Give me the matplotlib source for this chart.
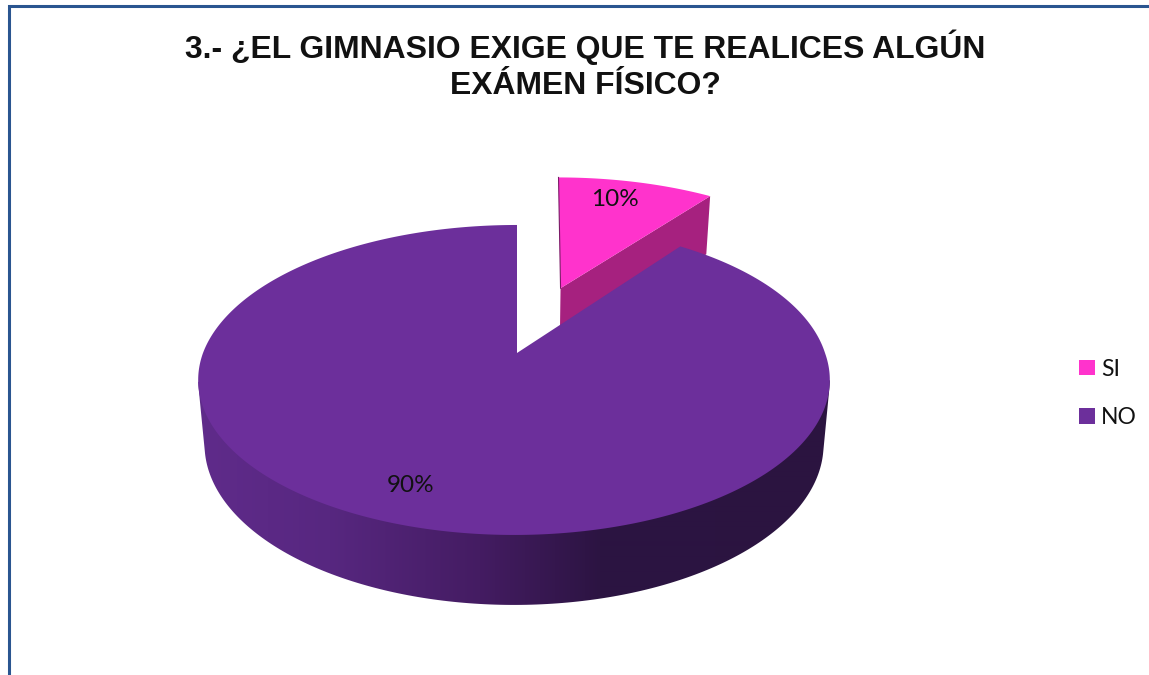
import numpy as np
import matplotlib
matplotlib.use('Agg')
import matplotlib.pyplot as plt
from matplotlib.colors import to_rgb
from matplotlib.patches import Polygon, Rectangle

labels = ['SI', 'NO']
values = [10, 90]
colors = ['#FF33CC', '#6C2F9B']

title = '3.- ¿EL GIMNASIO EXIGE QUE TE REALICES ALGÚN\nEXÁMEN FÍSICO?'

# pie geometry, in pixels
cx, cy = 517, 353
rx, ry = 311, 150.3
tilt = 0.174
explode = 0.49
drop = 63.6
side_x, side_y = 0.98, 1.035

wall_x = [205, 330, 480, 600, 830]
wall_c = ['#5F2B8A', '#572780', '#441C62', '#2C1442', '#2B1440']


def project(x, y):
    d = 1 - tilt * y
    return rx * x / d, ry * y / d


def rim(t, off=(0, 0)):
    # point of the tilted disc, t in degrees clockwise from the top
    a = np.radians(t)
    return project(np.sin(a) + off[0], -np.cos(a) + off[1])


def top(px, py):
    return np.column_stack([cx + px, cy + py])


def bottom(px, py):
    return np.column_stack([cx + side_x * px, cy + side_y * py + drop])


def hull(points):
    # convex hull, monotone chain
    pts = sorted(map(tuple, points))

    def half(seq):
        out = []
        for p in seq:
            while len(out) > 1 and np.cross(np.subtract(out[-1], out[-2]), np.subtract(p, out[-2])) <= 0:
                out.pop()
            out.append(p)
        return out[:-1]
    return np.array(half(pts) + half(pts[::-1]))


fig = plt.figure(figsize=(11.49, 6.75), dpi=100)
ax = fig.add_axes([0, 0, 1, 1])

# frame
ax.plot([9, 9, 1149], [675, 6, 6], color='#2A5590', lw=2.2, solid_joinstyle='miter')

ends = np.cumsum(values) / np.sum(values) * 360
si_end, no_end = ends

# SI slice, pulled out along its middle angle
mid = np.radians(si_end / 2)
off = (explode * np.sin(mid), -explode * np.cos(mid))
ts = np.linspace(0, si_end, 40)
apex = project(off[0], off[1])
px, py = rim(ts, off)
px = px + np.interp(ts, [0, si_end], [4, 5])
edge_top = top(np.array([apex[0], px[-1]]), np.array([apex[1], py[-1]]))
edge_bot = bottom(np.array([apex[0], px[-1]]), np.array([apex[1], py[-1]]))
ax.add_patch(Polygon(np.vstack([edge_top, edge_bot[::-1]]), fc='#A6217F', ec='none'))
ax.add_patch(Polygon(top(np.r_[apex[0], px], np.r_[apex[1], py]), fc=colors[0], ec='none'))
ax.plot([cx + px[0], cx + apex[0]], [cy + py[0], cy + apex[1]], color='#7A1A66', lw=0.8)

# NO slice, the rim leans slightly off the centre
ts = np.linspace(si_end, no_end, 400)
px, py = rim(ts)
px = px + np.interp(ts, [0, si_end, 90, 270, 360], [0, 3, -3, -3, 0])

# side wall with a left to right shading, clipped to the outline
front = (ts > 100) & (ts < 260)
outline = hull(np.vstack([top(px[front], py[front]), bottom(px[front], py[front])]))
wall = Polygon(outline, fc='none', ec='none')
ax.add_patch(wall)
grad_x = np.arange(190, 840)
rgb = np.array([to_rgb(c) for c in wall_c])
shade = np.stack([np.interp(grad_x, wall_x, rgb[:, i]) for i in range(3)], axis=-1)[None, :, :]
img = ax.imshow(shade, extent=[190, 840, 620, 300], aspect='auto', interpolation='bilinear')
img.set_clip_path(wall)

ax.add_patch(Polygon(top(np.r_[0, px], np.r_[0, py]), fc=colors[1], ec='none', zorder=3))

# percent labels
font = 'Lato'
ax.text(615, 200, '%d%%' % values[0], ha='center', va='center', fontsize=17.5, family=font, color='#111111', zorder=4)
ax.text(411, 486, '%d%%' % values[1], ha='center', va='center', fontsize=17.5, family=font, color='#111111', zorder=4)

ax.text(585, 65.5, title, ha='center', va='center', fontsize=22.95, fontweight='bold',
        family='Liberation Sans', color='#111111', linespacing=1.28)

# legend
for name, c, y in zip(labels, colors, [367.5, 416]):
    ax.add_patch(Rectangle((1079, y - 8), 15.5, 15.5, fc=c, ec='none'))
    ax.text(1101, y + 1.5, name, ha='left', va='center', fontsize=16.5, family=font, color='#111111')

ax.set_xlim(0, 1149)
ax.set_ylim(675, 0)
ax.axis('off')

fig.savefig('out.png', dpi=100)
